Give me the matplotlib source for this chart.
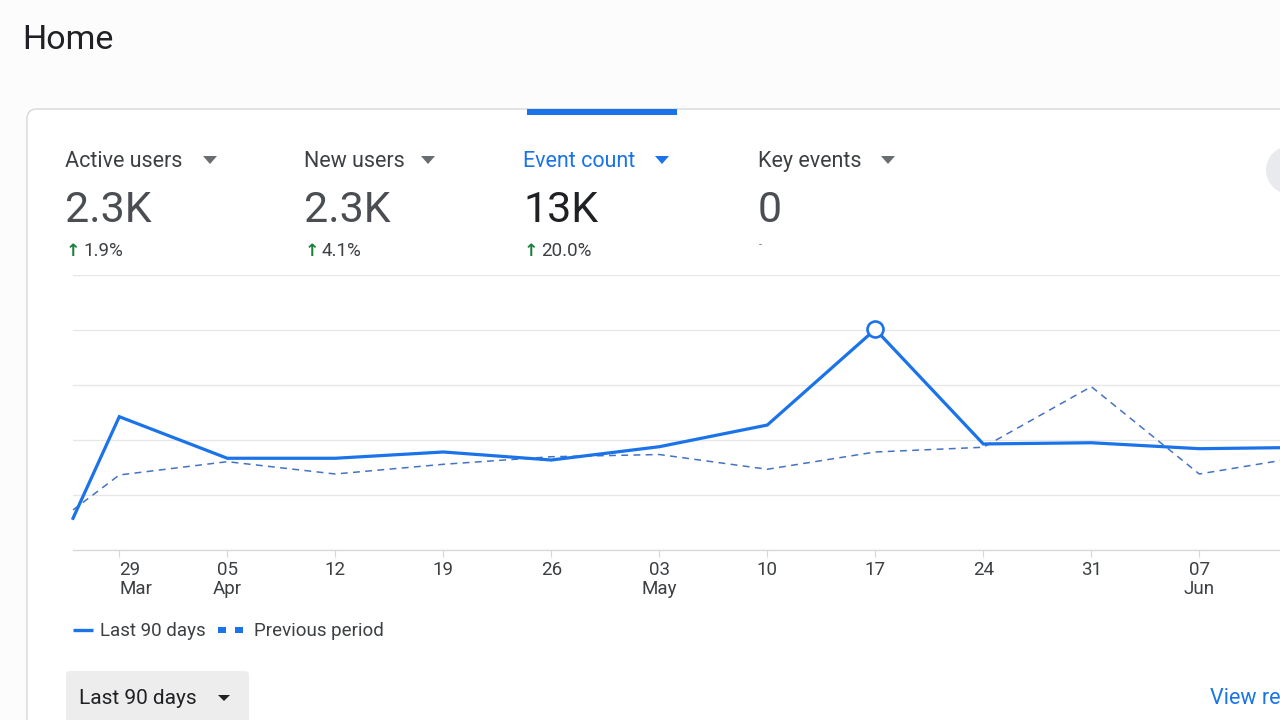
import matplotlib
matplotlib.use("Agg")
import matplotlib.pyplot as plt
import matplotlib.dates as mdates
from matplotlib.patches import FancyBboxPatch, Rectangle, Polygon, Circle
from matplotlib.lines import Line2D
import pandas as pd
import numpy as np

# ---------------- data ----------------
dates = ["2026-03-26", "2026-03-29", "2026-04-05", "2026-04-12", "2026-04-19",
         "2026-04-26", "2026-05-03", "2026-05-10", "2026-05-17", "2026-05-24",
         "2026-05-31", "2026-06-07", "2026-06-14"]
last_90_days = [288, 1212, 834, 834, 891, 818, 939, 1136, 2006, 964, 975, 921, 933]
previous_period = [364, 682, 803, 691, 779, 848, 868, 734, 891, 934, 1485, 691, 854]

tick_dates = ["2026-03-29", "2026-04-05", "2026-04-12", "2026-04-19", "2026-04-26",
              "2026-05-03", "2026-05-10", "2026-05-17", "2026-05-24", "2026-05-31",
              "2026-06-07"]
tick_labels = ["29\nMar", "05\nApr", "12", "19", "26", "03\nMay", "10", "17", "24",
               "31", "07\nJun"]

metric_names = ["Active users", "New users", "Event count", "Key events"]
metric_values = ["2.3K", "2.3K", "13K", "0"]
metric_changes = ["1.9%", "4.1%", "20.0%", None]
selected_metric = "Event count"

y_ticks = [0, 500, 1000, 1500, 2000, 2500]

# ---------------- style ----------------
BLUE = "#1a73e8"
DASH_BLUE = "#4472c4"
TXT = "#3c4043"
DARK = "#202124"
GREEN = "#188038"
FONT = ["Roboto", "DejaVu Sans"]
plt.rcParams["font.family"] = FONT

W, H = 1280, 720
fig = plt.figure(figsize=(W / 100, H / 100), dpi=100, facecolor="#fcfcfd")

# background / overlay axes in pixel coordinates
bg = fig.add_axes([0, 0, 1, 1], zorder=0)
bg.set_xlim(0, W)
bg.set_ylim(H, 0)
bg.axis("off")

bg.text(22, 49, "Home", fontsize=24.5, color=DARK, va="baseline", ha="left")

card = FancyBboxPatch((27, 109), 1400, 800, boxstyle="round,pad=0,rounding_size=10",
                      facecolor="white", edgecolor="#d6d8db", linewidth=1.0)
bg.add_patch(card)
bg.add_patch(Rectangle((527, 109), 150, 6, facecolor=BLUE, edgecolor="none"))

# right circular button (cut off)
bg.add_patch(Circle((1290, 170), 24, facecolor="#e8eaed", edgecolor="none"))

metric_x = [65, 304, 523, 758]
tri_x = [210, 428, 662, 888]
for i, name in enumerate(metric_names):
    x = metric_x[i]
    sel = name == selected_metric
    col = BLUE if sel else TXT
    bg.text(x, 167, name, fontsize=15.5, color=col, va="baseline", ha="left")
    tcol = BLUE if sel else "#6a6d70"
    bg.add_patch(Polygon([[tri_x[i] - 7, 156], [tri_x[i] + 7, 156], [tri_x[i], 164]],
                         closed=True, facecolor=tcol, edgecolor="none"))
    vcol = DARK if sel else "#4a4d52"
    bg.text(x, 222, metric_values[i], fontsize=31, color=vcol, va="baseline", ha="left")
    ch = metric_changes[i]
    if ch is not None:
        bg.text(x + 1, 256, "↑", fontsize=12.5, color=GREEN, va="baseline", ha="left",
                family=["DejaVu Sans"], fontweight="bold")
        bg.text(x + 18, 256, ch, fontsize=13.5, color=TXT, va="baseline", ha="left")
    else:
        bg.text(x + 1, 248, "-", fontsize=8, color="#70757a", va="baseline", ha="left")

# legend (manual)
bg.add_line(Line2D([73, 93], [630, 630], color=BLUE, lw=2.4, solid_capstyle="butt"))
bg.text(100, 636, "Last 90 days", fontsize=13.5, color=TXT, va="baseline", ha="left")
bg.add_patch(Rectangle((218, 627), 8, 6, facecolor=BLUE, edgecolor="none"))
bg.add_patch(Rectangle((235, 627), 8, 6, facecolor=BLUE, edgecolor="none"))
bg.text(254, 636, "Previous period", fontsize=13.5, color=TXT, va="baseline", ha="left")

# bottom controls
bg.add_patch(FancyBboxPatch((66, 671), 183, 80, boxstyle="round,pad=0,rounding_size=4",
                            facecolor="#ededee", edgecolor="none"))
bg.text(79, 704, "Last 90 days", fontsize=15, color=DARK, va="baseline", ha="left")
bg.add_patch(Polygon([[218, 695], [230, 695], [224, 701]], closed=True,
                     facecolor=DARK, edgecolor="none"))
bg.text(1210, 704, "View re", fontsize=15.5, color=BLUE, va="baseline", ha="left")

# ---------------- chart ----------------
left, right, top, bottom = 73, 1280, 275, 550
ax = fig.add_axes([left / W, 1 - bottom / H, (right - left) / W, (bottom - top) / H],
                  zorder=2)
ax.patch.set_alpha(0)

x = pd.to_datetime(dates)
ax.plot(x, previous_period, color=DASH_BLUE, lw=1.1, dashes=(4.5, 3.5), zorder=3,
        clip_on=False)
ax.plot(x, last_90_days, color=BLUE, lw=2.3, zorder=4, solid_joinstyle="miter",
        clip_on=False)
imax = int(np.argmax(last_90_days))
ax.plot([x[imax]], [last_90_days[imax]], marker="o", markersize=11.5,
        markerfacecolor="white", markeredgecolor=BLUE, markeredgewidth=1.9, zorder=5,
        clip_on=False)

d0 = x[0]
ax.set_xlim(mdates.date2num(d0), mdates.date2num(d0) + (right - left) / (108 / 7))
ax.set_ylim(0, 2500)
ax.set_yticks(y_ticks)
ax.set_yticklabels([])
ax.tick_params(axis="y", length=0)
ax.grid(axis="y", color="#e6e6e6", lw=0.9)
ax.set_axisbelow(True)
for s in ["top", "right", "left"]:
    ax.spines[s].set_visible(False)
ax.spines["bottom"].set_color("#d5d7da")
ax.spines["bottom"].set_linewidth(0.9)

ax.set_xticks(pd.to_datetime(tick_dates))
ax.set_xticklabels(tick_labels)
ax.tick_params(axis="x", length=5, width=0.8, color="#d5d7da", pad=3,
               labelsize=13.5, labelcolor=TXT)
lbls = ax.get_xticklabels()
for lb in lbls:
    lb.set_linespacing(1.05)
lbls[0].set_ha("left")
lbls[0].set_multialignment("left")

fig.savefig("out.png", dpi=100, facecolor=fig.get_facecolor())
